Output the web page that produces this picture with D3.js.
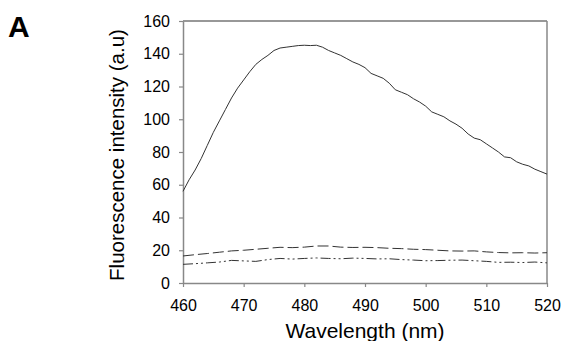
<!DOCTYPE html>
<html>
<head>
<meta charset="utf-8">
<script src="https://cdn.jsdelivr.net/npm/d3@7"></script>
<style>
  body { margin: 0; background: #fff; }
  svg { display: block; font-family: "Liberation Sans", Arial, sans-serif; }
</style>
</head>
<body>
<div id="chart"></div>
<script>
// wavelength grid (nm)
const wlSolid = d3.range(460, 521, 1);
const wlLow = d3.range(460, 521, 2);

// solid curve, 1 nm steps
const solidValues = [56, 63, 69, 76, 84, 92, 99, 106, 113, 119,
  124, 129, 133.5, 136.5, 139, 142, 143.5, 144, 144.5, 145,
  145.2, 145, 145.2, 144, 142, 140.5, 139, 137, 135, 133.5,
  131.5, 128, 126.5, 125, 122, 118, 116.5, 115, 112.5, 110.5,
  108, 104.5, 103, 101.5, 99, 97, 94.5, 91, 88.5, 87.5,
  85, 82.5, 80, 77, 76.5, 74, 72.5, 71.5, 69.5, 68, 66.5];

// dashed curve, 2 nm steps
const dashedValues = [16.5, 17.3, 18, 18.8, 19.6, 20, 20.6, 21.2, 21.8, 21.6,
  21.9, 22.6, 22.6, 21.9, 21.7, 21.8, 21.6, 21.2, 21, 20.6,
  20.4, 20, 19.6, 19.5, 19.6, 19, 18.6, 18.4, 18.5, 18.3, 18.5];

// dash-dot-dot curve, 2 nm steps
const dashDotValues = [11.4, 11.8, 12.3, 12.8, 13.8, 13.5, 13.2, 14.3, 15, 14.6,
  15, 15.3, 15, 14.8, 15.2, 15, 14.7, 14.8, 14.3, 14,
  13.6, 13.7, 13.9, 14, 13.6, 13.2, 12.6, 12.7, 12.5, 12.8, 12.3];

const xTicks = [460, 470, 480, 490, 500, 510, 520];
const yTicks = [0, 20, 40, 60, 80, 100, 120, 140, 160];

const width = 563, height = 341;
const margin = { left: 183, right: 16, top: 21, bottom: 58 };

const svg = d3.select('#chart').append('svg')
    .attr('width', width)
    .attr('height', height);

const x = d3.scaleLinear().domain([460, 520]).range([margin.left, width - margin.right]);
const y = d3.scaleLinear().domain([0, 160]).range([height - margin.bottom, margin.top]);

// frame top / right
svg.append('line')
    .attr('x1', x(460)).attr('x2', x(520))
    .attr('y1', y(160)).attr('y2', y(160))
    .attr('stroke', '#333').attr('stroke-width', 1.2);
svg.append('line')
    .attr('x1', x(520)).attr('x2', x(520))
    .attr('y1', y(0)).attr('y2', y(160))
    .attr('stroke', '#888').attr('stroke-width', 1.5);

// axes
const xAxis = svg.append('g')
    .attr('transform', `translate(0,${y(0)})`)
    .call(d3.axisBottom(x).tickValues(xTicks).tickSize(4).tickPadding(13).tickSizeOuter(0));
const yAxis = svg.append('g')
    .attr('transform', `translate(${x(460)},0)`)
    .call(d3.axisLeft(y).tickValues(yTicks).tickSize(4).tickPadding(9).tickSizeOuter(0));

[xAxis, yAxis].forEach(g => {
    g.select('.domain').attr('stroke', '#888').attr('stroke-width', 1.5);
    g.selectAll('.tick line').attr('stroke', '#888').attr('stroke-width', 1.2);
    g.selectAll('.tick text')
        .attr('fill', '#000')
        .style('font-size', '16px')
        .style('font-family', '"Liberation Sans", Arial, sans-serif');
});

// curves
const line = d3.line().x(d => x(d[0])).y(d => y(d[1]));

svg.append('path')
    .datum(wlSolid.map((w, i) => [w, solidValues[i]]))
    .attr('d', line)
    .attr('fill', 'none')
    .attr('stroke', '#333')
    .attr('stroke-width', 1);

svg.append('path')
    .datum(wlLow.map((w, i) => [w, dashedValues[i]]))
    .attr('d', line)
    .attr('fill', 'none')
    .attr('stroke', '#333')
    .attr('stroke-width', 1)
    .attr('stroke-dasharray', '11,4');

svg.append('path')
    .datum(wlLow.map((w, i) => [w, dashDotValues[i]]))
    .attr('d', line)
    .attr('fill', 'none')
    .attr('stroke', '#333')
    .attr('stroke-width', 1)
    .attr('stroke-dasharray', '10,3,2,3,2,3');

// titles
svg.append('text')
    .attr('x', (x(460) + x(520)) / 2)
    .attr('y', 338)
    .attr('text-anchor', 'middle')
    .style('font-size', '21px')
    .text('Wavelength (nm)');

svg.append('text')
    .attr('transform', `translate(124,155) rotate(-90)`)
    .attr('text-anchor', 'middle')
    .style('font-size', '20.5px')
    .text('Fluorescence intensity (a.u)');

svg.append('text')
    .attr('x', 8)
    .attr('y', 37)
    .style('font-size', '30px')
    .style('font-weight', 'bold')
    .text('A');
</script>
</body>
</html>
